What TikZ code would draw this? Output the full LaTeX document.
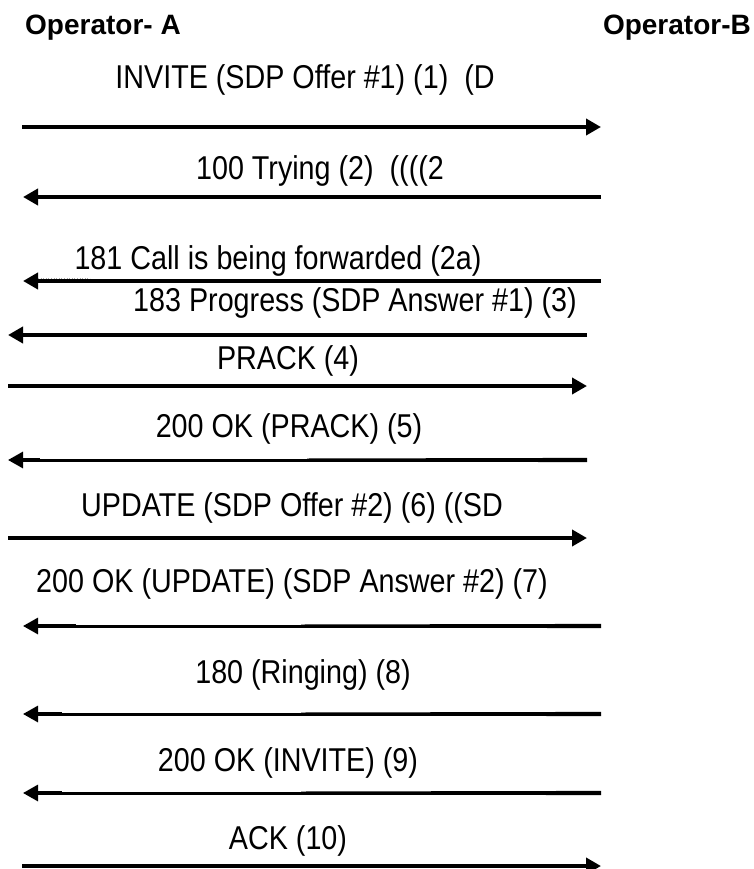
\documentclass[tikz,border=0pt]{standalone}
\usepackage{fontspec}
\setmainfont{Liberation Sans}
\newfontfamily\narrowf[FakeStretch=0.87]{Liberation Sans}
\usetikzlibrary{arrows.meta}
\tikzset{
  msg/.style={anchor=base, inner sep=0pt, font=\narrowf\fontsize{33}{38}\selectfont},
  head/.style={anchor=base west, inner sep=0pt, font=\bfseries\fontsize{28}{32}\selectfont},
  sig/.style={line width=4pt, -{Triangle[length=15pt,width=16pt]}},
  sigthin/.style={line width=3pt, -{Triangle[length=15pt,width=16pt]}},
  stub/.style={line width=4.4pt},
  taper/.style={fill=black}
}
\begin{document}
\begin{tikzpicture}[x=1pt,y=-1pt]
\useasboundingbox (0,0) rectangle (753,869);
% headers
\node[head] (opA) at (25,35) {Operator- A};
\node[head, anchor=base east] (opB) at (751,35) {Operator-B};
% labels
\node[msg] (m1)  at (305,89)  {INVITE (SDP Offer \#1) (1)\ \ (D};
\node[msg] (m2)  at (320,179) {100 Trying (2)\ \ ((((2};
\node[msg] (m3)  at (278,269) {181 Call is being forwarded (2a)};
\node[msg] (m4)  at (355,311) {183 Progress (SDP Answer \#1) (3)};
\node[msg] (m5)  at (288,369) {PRACK (4)};
\node[msg] (m6)  at (289,437) {200 OK (PRACK) (5)};
\node[msg] (m7)  at (292,516) {UPDATE (SDP Offer \#2) (6) ((SD};
\node[msg] (m8)  at (292,592) {200 OK (UPDATE) (SDP Answer \#2) (7)};
\node[msg] (m9)  at (303,683) {180 (Ringing) (8)};
\node[msg] (m10) at (288,771) {200 OK (INVITE) (9)};
\node[msg] (m11) at (288,849) {ACK (10)};
% end points
\coordinate (a1) at (22,127);  \coordinate (b1) at (601,127);
\coordinate (a2) at (23,197);  \coordinate (b2) at (601,197);
\coordinate (a3) at (23,281);  \coordinate (b3) at (601,281);
\coordinate (a4) at (8,335);   \coordinate (b4) at (587,335);
\coordinate (a5) at (8,386);   \coordinate (b5) at (587,386);
\coordinate (a6) at (8,460);   \coordinate (b6) at (587,460);
\coordinate (a7) at (8,538);   \coordinate (b7) at (587,538);
\coordinate (a8) at (23,626);  \coordinate (b8) at (601,626);
\coordinate (a9) at (23,714);  \coordinate (b9) at (601,714);
\coordinate (a10) at (23,793); \coordinate (b10) at (601,793);
\coordinate (a11) at (22,866); \coordinate (b11) at (601,866);
% arrows
\draw[sig] (a1) -- (b1);
\draw[sig] (b2) -- (a2);
\draw[sig] (b3) -- (a3);
\draw[gray!70, line width=0.6pt, dotted] (38,278.5) -- (90,278.5);
\draw[sig] (b4) -- (a4);
\draw[sig] (a5) -- (b5);
\draw[sigthin] (b6) -- (a6);
\draw[stub] ([xshift=12pt]a6) -- ([xshift=32pt]a6);
\fill[taper] ([yshift=-2.1pt]b6) -- ([xshift=-280pt,yshift=-1.5pt]b6) -- ([xshift=-280pt,yshift=1.5pt]b6) -- ([yshift=2.1pt]b6) -- cycle;
\draw[sig] (a7) -- (b7);
\draw[sigthin] (b8) -- (a8);
\draw[stub] ([xshift=12pt]a8) -- ([xshift=53pt]a8);
\fill[taper] ([yshift=-2.1pt]b8) -- ([xshift=-300pt,yshift=-1.5pt]b8) -- ([xshift=-300pt,yshift=1.5pt]b8) -- ([yshift=2.1pt]b8) -- cycle;
\draw[sigthin] (b9) -- (a9);
\draw[stub] ([xshift=12pt]a9) -- ([xshift=39pt]a9);
\fill[taper] ([yshift=-2.1pt]b9) -- ([xshift=-300pt,yshift=-1.5pt]b9) -- ([xshift=-300pt,yshift=1.5pt]b9) -- ([yshift=2.1pt]b9) -- cycle;
\draw[sigthin] (b10) -- (a10);
\draw[stub] ([xshift=12pt]a10) -- ([xshift=39pt]a10);
\fill[taper] ([yshift=-2.1pt]b10) -- ([xshift=-300pt,yshift=-1.5pt]b10) -- ([xshift=-300pt,yshift=1.5pt]b10) -- ([yshift=2.1pt]b10) -- cycle;
\draw[sig] (a11) -- (b11);
\end{tikzpicture}
\end{document}
